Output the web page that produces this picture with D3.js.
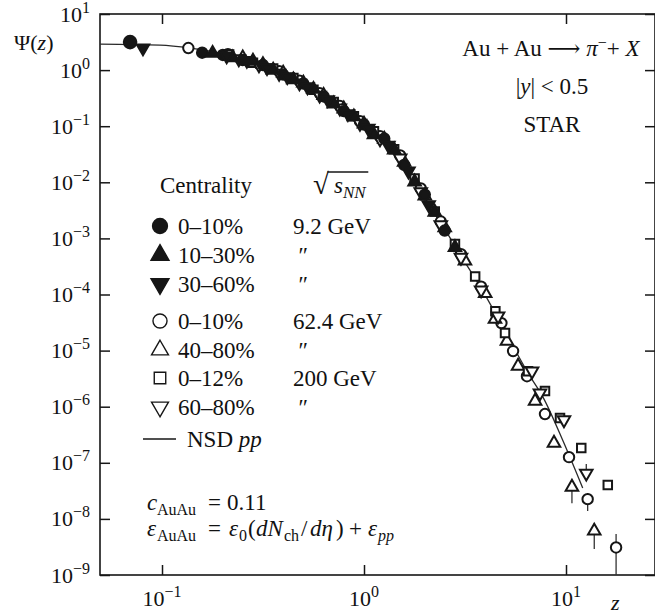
<!DOCTYPE html>
<html><head><meta charset="utf-8">
<script src="https://cdn.jsdelivr.net/npm/d3@7"></script>
<style>
body{margin:0;background:#fff;}
svg text{font-family:"Liberation Serif","Tinos","Times New Roman","DejaVu Serif",serif;fill:#111;}
</style></head><body>
<svg id="chart" width="655" height="614" font-family="Liberation Serif, Tinos, Times New Roman, DejaVu Serif, serif"></svg>
<script>
// NSD pp reference curve Psi(z)
const curveZ   = [0.0493, 0.0977, 0.138, 0.183, 0.258, 0.354, 0.482, 0.606, 0.787, 1.01, 1.27, 1.51, 1.79, 2.12, 2.58, 3.09, 3.75, 4.55, 5.47, 6.49, 7.69, 9.67, 12.1];
const curvePsi = [2.91, 2.79, 2.47, 2.09, 1.57, 1.04, 0.611, 0.373, 0.202, 0.100, 0.0542, 0.0293, 0.0105, 3.77e-3, 1.24e-3, 4.27e-4, 1.41e-4, 4.12e-5, 1.20e-5, 3.97e-6, 1.48e-6, 2.44e-7, 3.54e-8];

// Au+Au 9.2 GeV, 0-10%
const z92a = [0.0695, 0.158, 0.200, 0.251, 0.316, 0.398, 0.501, 0.631, 0.794, 1.00, 1.26, 1.58, 2.00, 2.51];
const p92a = [3.16, 2.04, 1.86, 1.51, 1.23, 0.832, 0.575, 0.339, 0.186, 0.107, 0.0603, 0.0204, 6.03e-3, 1.38e-3];
// Au+Au 9.2 GeV, 10-30%
const z92b = [0.178, 0.224, 0.282, 0.355, 0.447, 0.562, 0.708, 0.891, 1.12, 1.41, 1.78, 2.24, 2.82];
const p92b = [2.00, 1.66, 1.45, 1.00, 0.676, 0.457, 0.251, 0.148, 0.0708, 0.0380, 0.0102, 2.95e-3, 6.92e-4];
// Au+Au 9.2 GeV, 30-60%
const z92c = [0.0805, 0.209, 0.263, 0.331, 0.417, 0.525, 0.661, 0.832, 1.05, 1.32, 1.66, 2.09];
const p92c = [2.47, 1.78, 1.48, 1.10, 0.759, 0.501, 0.295, 0.166, 0.0912, 0.0457, 0.0158, 3.98e-3];
// Au+Au 62.4 GeV, 0-10%
const z62a = [0.135, 0.212, 0.380, 0.479, 0.603, 0.759, 0.955, 1.20, 1.51, 1.91, 2.40, 3.02, 3.80, 4.79, 5.47, 6.41, 7.87, 10.35, 12.8, 17.7];
const p62a = [2.47, 1.93, 0.955, 0.646, 0.389, 0.229, 0.123, 0.0661, 0.0302, 7.76e-3, 2.00e-3, 5.25e-4, 1.38e-4, 3.09e-5, 9.8e-6, 3.5e-6, 7.4e-7, 1.26e-7, 2.25e-8, 3.1e-9];
// Au+Au 62.4 GeV, 40-80%
const z62b = [0.251, 0.316, 0.398, 0.501, 0.631, 0.794, 1.00, 1.26, 1.58, 2.00, 2.51, 3.16, 3.98, 4.45, 5.10, 5.79, 7.03, 8.72, 10.7, 13.8];
const p62b = [1.66, 1.26, 0.891, 0.589, 0.355, 0.204, 0.110, 0.0589, 0.0229, 5.75e-3, 1.55e-3, 3.98e-4, 1.05e-4, 3.64e-5, 1.48e-5, 5.3e-6, 1.26e-6, 2.25e-7, 3.7e-8, 6.1e-9];
// Au+Au 200 GeV, 0-12%
const z200a = [0.215, 0.282, 0.355, 0.447, 0.562, 0.708, 0.891, 1.12, 1.41, 1.78, 2.24, 2.82, 3.55, 4.47, 4.99, 6.49, 7.87, 9.34, 11.9, 16.1];
const p200a = [1.90, 1.35, 1.07, 0.724, 0.447, 0.269, 0.151, 0.0813, 0.0389, 0.0117, 3.02e-3, 7.94e-4, 2.09e-4, 5.01e-5, 2.05e-5, 4.3e-6, 1.9e-6, 6.3e-7, 1.83e-7, 4.0e-8];
// Au+Au 200 GeV, 60-80%
const z200b = [0.240, 0.302, 0.380, 0.479, 0.603, 0.759, 0.955, 1.20, 1.51, 1.91, 2.40, 3.02, 3.80, 4.61, 6.79, 7.43, 9.77, 12.6];
const p200b = [1.58, 1.23, 0.871, 0.589, 0.355, 0.209, 0.112, 0.0589, 0.0269, 6.76e-3, 1.74e-3, 4.57e-4, 1.20e-4, 4.1e-5, 4.3e-6, 1.75e-6, 5.8e-7, 6.5e-8];

// error bars at the highest z (series index, z, low, high)
const errSeries = [3, 3, 4, 4, 6];
const errZ   = [12.8, 17.7, 10.7, 13.8, 12.6];
const errLo  = [1.38e-8, 5e-10, 1.9e-8, 2.9e-9, 6.5e-8];
const errHi  = [2.9e-8, 5.4e-9, 4.0e-8, 8.4e-9, 9.5e-8];

// legend text
const centralityLabels = ["0–10%", "10–30%", "30–60%", "0–10%", "40–80%", "0–12%", "60–80%"];
const energyLabels = ["9.2 GeV", "″", "″", "62.4 GeV", "″", "200 GeV", "″"];

// axis ticks
const xTickValues = [0.1, 1, 10];
const yTickValues = [1e1, 1e0, 1e-1, 1e-2, 1e-3, 1e-4, 1e-5, 1e-6, 1e-7, 1e-8, 1e-9];

const seriesZ = [z92a, z92b, z92c, z62a, z62b, z200a, z200b];
const seriesP = [p92a, p92b, p92c, p62a, p62b, p200a, p200b];
const shapes = ["circle", "triangle", "triangleDown", "circle", "triangle", "square", "triangleDown"];
const filled = [true, true, true, false, false, false, false];

const svg = d3.select("#chart");
const L = 100, R = 655, T = 14, B = 575;
const x = d3.scaleLog().domain([0.04932, 27.58]).range([L, R]);
const y = d3.scaleLog().domain([1e-9, 10]).range([B, T]);
const ink = "#161616";
const serif = "Liberation Serif, Tinos, Times New Roman, DejaVu Serif, serif";
const FS = 23, SUB = 16;

svg.append("defs").append("clipPath").attr("id", "plot")
  .append("rect").attr("x", L).attr("y", T).attr("width", R - L).attr("height", B - T);

// frame
svg.append("rect").attr("x", L).attr("y", T).attr("width", R - L).attr("height", B - T)
  .attr("fill", "none").attr("stroke", ink).attr("stroke-width", 1.6);

// ticks pointing inward on all four sides
function styleAxis(g) {
  g.select(".domain").remove();
  g.selectAll(".tick line").attr("stroke", ink).attr("stroke-width", 1.5);
  g.selectAll(".tick text").remove();
}
svg.append("g").attr("transform", `translate(${L},0)`)
  .call(d3.axisLeft(y).tickValues(yTickValues).tickSize(-10).tickFormat("")).call(styleAxis);
svg.append("g").attr("transform", `translate(${R},0)`)
  .call(d3.axisRight(y).tickValues(yTickValues).tickSize(-10).tickFormat("")).call(styleAxis);
svg.append("g").attr("transform", `translate(0,${B})`)
  .call(d3.axisBottom(x).tickValues(xTickValues).tickSize(-10).tickFormat("")).call(styleAxis);
svg.append("g").attr("transform", `translate(0,${T})`)
  .call(d3.axisTop(x).tickValues(xTickValues).tickSize(-10).tickFormat("")).call(styleAxis);

function txt(xp, yp, size) {
  return svg.append("text").attr("x", xp).attr("y", yp).attr("font-size", size).attr("font-family", serif);
}

// power-of-ten labels
function pow10(t, v) {
  const e = Math.round(Math.log10(v));
  t.append("tspan").attr("font-size", 22).text("10");
  t.append("tspan").attr("font-size", SUB).attr("dy", -9).text(e < 0 ? "−" + (-e) : String(e));
}
yTickValues.forEach(v => {
  const t = txt(90, y(v) + 7.5, 22).attr("text-anchor", "end");
  pow10(t, v);
});
xTickValues.forEach(v => {
  const t = txt(x(v), 606, 22).attr("text-anchor", "middle");
  pow10(t, v);
});

// axis titles
const yt = txt(14, 50, 22);
yt.append("tspan").text("Ψ(");
yt.append("tspan").attr("font-style", "italic").text("z");
yt.append("tspan").text(")");
txt(611, 610, 22).attr("font-style", "italic").text("z");

// marker path generator
function markerPath(shape, size) {
  if (shape === "circle") return d3.symbol().type(d3.symbolCircle).size(size)();
  if (shape === "square") return d3.symbol().type(d3.symbolSquare).size(size * 0.85)();
  return d3.symbol().type(d3.symbolTriangle).size(size * 0.8)();
}
function drawMarker(g, shape, isFilled, cx, cy, size, sw) {
  g.append("path")
    .attr("d", markerPath(shape, size))
    .attr("transform", `translate(${cx},${cy})` + (shape === "triangleDown" ? " rotate(180)" : ""))
    .attr("fill", isFilled ? ink : "#fff")
    .attr("stroke", ink).attr("stroke-width", sw);
}

const plot = svg.append("g").attr("clip-path", "url(#plot)");

// pp curve
const line = d3.line().x((d, i) => x(curveZ[i])).y((d, i) => y(curvePsi[i])).curve(d3.curveMonotoneX);
plot.append("path").datum(curveZ).attr("d", line)
  .attr("fill", "none").attr("stroke", "#2a2a2a").attr("stroke-width", 1.3);

// error bars
errSeries.forEach((s, i) => {
  plot.append("line").attr("x1", x(errZ[i])).attr("x2", x(errZ[i]))
    .attr("y1", y(errLo[i])).attr("y2", y(errHi[i]))
    .attr("stroke", "#333").attr("stroke-width", 1.3);
});

// data points, open series drawn first so filled markers sit on top
[3, 4, 5, 6, 0, 1, 2].forEach(s => {
  seriesZ[s].forEach((zv, i) => {
    const sz = (s === 0 && i === 0) ? 125 : 85;
    drawMarker(plot, shapes[s], filled[s], x(zv), y(seriesP[s][i]), sz, 2);
  });
});

// reaction annotation
const a1 = txt(551, 56, FS).attr("text-anchor", "middle");
a1.append("tspan").text("Au + Au ⟶ ");
a1.append("tspan").attr("font-style", "italic").text("π");
a1.append("tspan").attr("font-size", SUB).attr("dy", -8).text("−");
a1.append("tspan").attr("dy", 8).text("+ ");
a1.append("tspan").attr("font-style", "italic").text("X");
const a2 = txt(552, 94, FS).attr("text-anchor", "middle");
a2.append("tspan").text("|");
a2.append("tspan").attr("font-style", "italic").text("y");
a2.append("tspan").text("| < 0.5");
txt(552, 132, FS).attr("text-anchor", "middle").text("STAR");

// legend header
txt(160, 193, FS).text("Centrality");
const rad = txt(313, 194, 29).text("√");
const sq = txt(334, 193, FS);
sq.append("tspan").attr("font-style", "italic").text("s");
sq.append("tspan").attr("font-style", "italic").attr("font-size", 17).attr("dy", 5).text("NN");
const rb = rad.node().getBBox();
const bb = sq.node().getBBox();
svg.append("line").attr("x1", rb.x + rb.width - 1.5).attr("x2", bb.x + bb.width + 1).attr("y1", 172).attr("y2", 172)
  .attr("stroke", ink).attr("stroke-width", 1.3);

const rowY = [226, 255, 284, 321, 350, 378, 407];
centralityLabels.forEach((lab, i) => {
  drawMarker(svg, shapes[i], filled[i], 160, rowY[i], filled[i] ? 175 : 155, 1.4);
  txt(178, rowY[i] + 8, FS).text(lab);
  const ditto = energyLabels[i] === "″";
  txt(ditto ? 297 : 293, rowY[i] + 8, FS).attr("font-style", ditto ? "italic" : "normal").text(energyLabels[i]);
});
svg.append("line").attr("x1", 143).attr("x2", 176).attr("y1", 439).attr("y2", 439)
  .attr("stroke", ink).attr("stroke-width", 1.3);
const nsd = txt(187, 447, FS);
nsd.append("tspan").text("NSD ");
nsd.append("tspan").attr("font-style", "italic").text("pp");

// model parameters, laid out piece by piece
function piece(t, xp, s, opts = {}) {
  const sp = t.append("tspan").attr("x", xp).text(s);
  if (opts.it) sp.attr("font-style", "italic");
  if (opts.sub) sp.attr("font-size", SUB).attr("y", +t.attr("y") + 5);
  else sp.attr("y", +t.attr("y"));
  return sp;
}
const c1 = txt(147, 510, FS);
piece(c1, 147, "c", {it: true});
piece(c1, 157, "AuAu", {sub: true});
piece(c1, 208, "=");
piece(c1, 227, "0.11");

const c2 = txt(147, 536, FS);
piece(c2, 147, "ε", {it: true});
piece(c2, 157, "AuAu", {sub: true});
piece(c2, 208, "=");
piece(c2, 229, "ε", {it: true});
piece(c2, 239, "0", {sub: true});
piece(c2, 248, "(");
piece(c2, 256, "dN", {it: true});
piece(c2, 284, "ch", {sub: true});
piece(c2, 301, "/");
piece(c2, 310, "dη", {it: true});
piece(c2, 336, ")");
piece(c2, 349, "+");
piece(c2, 368, "ε", {it: true});
piece(c2, 378, "pp", {sub: true, it: true});
</script>
</body></html>
